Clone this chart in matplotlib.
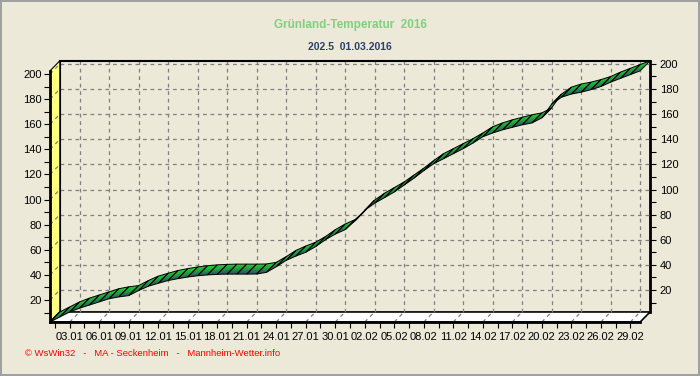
import numpy as np
import matplotlib
matplotlib.use("Agg")
import matplotlib.pyplot as plt
from matplotlib.colors import LinearSegmentedColormap
from matplotlib.patches import Polygon

# cumulative sum, 01.01.2016 .. 01.03.2016 (one value per day)
gts = [2.5, 6.5, 10.5, 13.5, 16.0, 18.5, 21.0, 22.5, 23.5, 27.5,
       31.0, 33.3, 35.5, 37.0, 38.3, 39.3, 40.0, 40.4, 40.6, 40.6,
       40.6, 40.7, 42.0, 46.5, 51.5, 55.0, 58.0, 62.5, 68.0, 72.5,
       76.0, 83.0, 91.5, 97.0, 101.5, 106.0, 111.5, 117.0, 123.0, 128.5,
       132.5, 136.5, 140.5, 145.0, 150.0, 153.0, 155.5, 157.5, 159.5, 161.0,
       165.0, 176.0, 181.5, 184.0, 185.5, 187.5, 190.0, 193.5, 196.5, 199.5,
       202.5]
date_labels = ["03.01", "06.01", "09.01", "12.01", "15.01", "18.01", "21.01",
               "24.01", "27.01", "30.01", "02.02", "05.02", "08.02", "11.02",
               "14.02", "17.02", "20.02", "23.02", "26.02", "29.02"]
label_days = [2 + 3 * i for i in range(len(date_labels))]
y_ticks = [20, 40, 60, 80, 100, 120, 140, 160, 180, 200]

title = "Grünland-Temperatur  2016"
subtitle = "202.5  01.03.2016"
footer = "© WsWin32   -   MA - Seckenheim   -   Mannheim-Wetter.info"

BG = "#ece9d8"
DX = 1.0   # depth offset in days
DY = 8.0   # depth offset in value units

plt.rcParams['font.family'] = ['Liberation Sans', 'DejaVu Sans']

days = np.arange(len(gts))
vals = np.array(gts)
ymin, ymax = vals.min(), vals.max()
xmax = days[-1]

fig = plt.figure(figsize=(7.0, 3.76), dpi=100, facecolor=BG)
fig.patch.set_edgecolor("#a0a0a0")
fig.patch.set_linewidth(1.5)
ax = fig.add_axes([50 / 700, 54 / 376, 600 / 700, 261.2 / 376])
ax.set_facecolor("none")
ax.set_xlim(0, xmax + DX)
ax.set_ylim(ymin, ymax + DY)

# left wall and floor
wall = Polygon([(0, ymin), (0, ymax), (DX, ymax + DY), (DX, ymin + DY)],
               closed=True, facecolor="#ffff80", edgecolor="black", lw=0.8, zorder=1)
ax.add_patch(wall)
floor = Polygon([(0, ymin), (xmax, ymin), (xmax + DX, ymin + DY), (DX, ymin + DY)],
                closed=True, facecolor="white", edgecolor="black", lw=1.2, zorder=1)
ax.add_patch(floor)

grid_kw = dict(color="#808080", lw=0.9, ls=(0, (3, 3)), zorder=1.5)
for v in y_ticks:
    ax.plot([DX, xmax + DX], [v + DY, v + DY], **grid_kw)
    ax.plot([0, DX], [v, v + DY], **grid_kw)
for d in label_days:
    ax.plot([d + DX, d + DX], [ymin + DY, ymax + DY], **grid_kw)
    ax.plot([d, d + DX], [ymin, ymin + DY], **grid_kw)
ax.plot([DX, DX], [ymin + DY, ymax + DY], color="black", lw=0.8, zorder=2)

# ribbon
cmap = LinearSegmentedColormap.from_list("rib", ["#2a4668", "#1ea040", "#1ee028"])
grad = np.linspace(0, 1, 64).reshape(-1, 1)
for i in range(len(days) - 1):
    x0, x1 = days[i], days[i + 1]
    y0, y1 = vals[i], vals[i + 1]
    pts = [(x0, y0), (x1, y1), (x1 + DX, y1 + DY), (x0 + DX, y0 + DY)]
    poly = Polygon(pts, closed=True, facecolor="none", edgecolor="black",
                   lw=0.7, zorder=4)
    ax.add_patch(poly)
    ys = [p[1] for p in pts]
    im = ax.imshow(grad, cmap=cmap, origin="lower", aspect="auto",
                   extent=[x0, x1 + DX, min(ys), max(ys)], zorder=3,
                   interpolation="bilinear")
    im.set_clip_path(poly)
ax.set_xlim(0, xmax + DX)
ax.set_ylim(ymin, ymax + DY)

# axes frame
for s in ["left", "bottom"]:
    ax.spines[s].set_linewidth(2)
ax.spines["left"].set_bounds(ymin, ymax)
ax.spines["bottom"].set_bounds(0, xmax)
ax.spines["top"].set_bounds(DX, xmax + DX)
ax.spines["top"].set_linewidth(1.5)
ax.spines["right"].set_visible(False)
for s in ax.spines.values():
    s.set_zorder(5)

ax.set_xticks(label_days)
ax.set_xticklabels(date_labels)
ax.set_xticks([d - 1.5 for d in label_days], minor=True)
ax.set_yticks(y_ticks)
ax.set_yticks([v - 10 for v in y_ticks], minor=True)
ax.tick_params(axis="both", which="both", direction="out", length=4, width=0.8,
               labelsize=8, colors="black")
ax.tick_params(axis="x", which="major", pad=3)
ax.tick_params(axis="y", which="major", pad=2)

sec = ax.secondary_yaxis("right", functions=(lambda y: y - DY, lambda y: y + DY))
sec.set_yticks(y_ticks)
sec.set_yticks([v - 10 for v in y_ticks], minor=True)
sec.spines["right"].set_bounds(ymin, ymax)
sec.spines["right"].set_linewidth(2)
sec.tick_params(axis="y", which="both", direction="out", length=4, width=0.8,
                labelsize=8, pad=3)

fig.text(0.5, 1 - 25 / 376, title, color="#80d080", fontsize=8.5,
         fontweight="bold", ha="center", va="center")
fig.text(0.5, 1 - 46.5 / 376, subtitle, color="#2c3e6e", fontsize=7.5,
         fontweight="bold", ha="center", va="center")
fig.text(25 / 700, 1 - 354 / 376, footer, color="red", fontsize=6.8,
         ha="left", va="center")

fig.savefig("out.png", dpi=100, facecolor=BG, edgecolor=fig.get_edgecolor())
